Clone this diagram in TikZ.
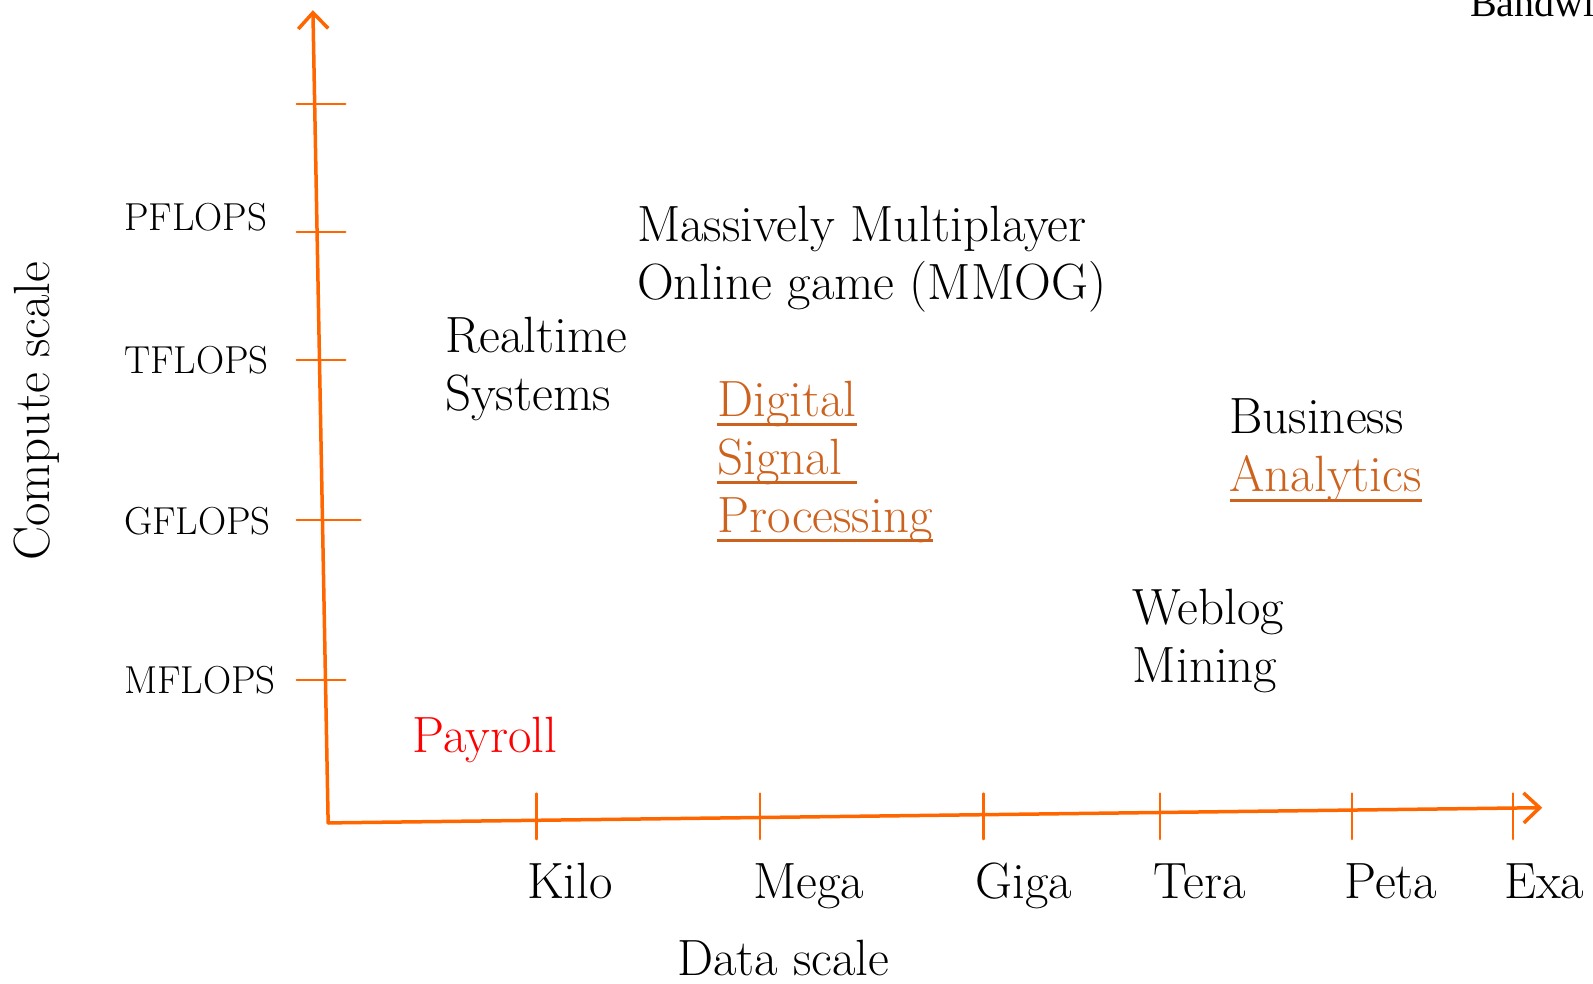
\documentclass[tikz,border=0pt]{standalone}
\usepackage{fontspec}
\newfontfamily\bwfont{Liberation Serif}
\usetikzlibrary{arrows.meta}
\definecolor{axisorange}{RGB}{255,102,0}
\definecolor{dsporange}{RGB}{205,98,30}
\newcommand{\thickul}[1]{\setbox0\hbox{#1}\rlap{\rule[-10pt]{\wd0}{3.2pt}}\box0}

\begin{document}
\begin{tikzpicture}[x=1.016pt, y=-1.016pt, line cap = round, line join = round, >={Straight Barb[length=16pt,width=30pt,line width=3.5pt]}]
\tikzstyle{axis}=[draw=axisorange, line width=3.5pt]
\tikzstyle{tickline}=[draw=axisorange, line width=2.2pt]
\tikzstyle{app}=[anchor=base west, align=left, inner sep=0pt, font=\fontsize{51}{58}\selectfont]
\tikzstyle{datalbl}=[anchor=base, inner sep=0pt, font=\fontsize{51}{58}\selectfont]
\tikzstyle{flops}=[anchor=base west, inner sep=0pt, font=\fontsize{39}{44}\selectfont]
\useasboundingbox (0,0) rectangle (1568,968);

\coordinate (origin) at (323,810);
\coordinate (ytop) at (308,10);
\coordinate (xend) at (1518,795);

% axes
\draw[axis,->] (origin) -- (ytop);
\draw[axis,->] (origin) -- (xend);

% compute ticks
\foreach \y/\l in {102/340, 228/340, 354/340, 512/355, 669/340}
  \draw[tickline] (292,\y) -- (\l,\y);
% data ticks
\foreach \x in {528, 748, 968, 1142, 1331, 1489}
  \draw[tickline] (\x,781) -- (\x,826);

\node[flops] (pflops) at (122,227) {PFLOPS};
\node[flops] (tflops) at (122,368) {TFLOPS};
\node[flops] (gflops) at (122,526) {GFLOPS};
\node[flops] (mflops) at (122,683) {MFLOPS};
\node[datalbl, rotate=90] (compute) at (49,405) {Compute scale};

\node[datalbl] (kilo) at (561,884) {Kilo};
\node[datalbl] (mega) at (796,884) {Mega};
\node[datalbl] (giga) at (1008,884) {Giga};
\node[datalbl] (tera) at (1181,884) {Tera};
\node[datalbl] (peta) at (1369,884) {Peta};
\node[datalbl] (exa) at (1520,884) {Exa};
\node[datalbl] (data) at (771,960) {Data scale};

% the base of a node with several lines is its last line
\node[app] (mmog) at (627,295) {Massively Multiplayer\\Online game (MMOG)};
\node[app] (realtime) at (438,404) {Realtime\\Systems};
\node[app, text=dsporange] (dsp) at (706,524) {\thickul{Digital}\\\thickul{Signal\ }\\\thickul{Processing}};
\node[app] (business) at (1210,484) {Business\\\textcolor{dsporange}{\thickul{Analytics}}};
\node[app] (weblog) at (1115,672) {Weblog\\Mining};
\node[app, text=red] (payroll) at (406,741) {Payroll};

\node[anchor=base west, inner sep=0pt, font=\bwfont\fontsize{40}{48}\selectfont] (bandwidth) at (1447,16) {Bandwidth};
\end{tikzpicture}
\end{document}
